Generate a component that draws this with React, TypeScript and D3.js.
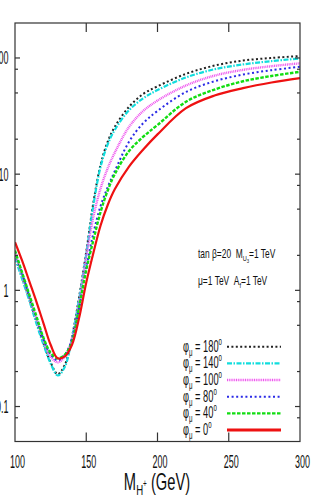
import React from 'react'
import * as d3 from 'd3'

// charged Higgs mass grid (GeV)
const masses = [100, 105, 110, 115, 120, 125, 130, 135, 140, 145, 150, 155, 160, 165, 170, 180, 190, 200, 220, 240, 260, 280, 300]

const phi180 = [2.0, 1.3, 0.85, 0.54, 0.35, 0.24, 0.19, 0.23, 0.4, 0.88, 2.15, 5.7, 12.0, 19.0, 25.5, 38, 49, 57, 73, 86, 95, 100, 104]
const phi140 = [1.9, 1.25, 0.82, 0.52, 0.34, 0.235, 0.185, 0.22, 0.39, 0.84, 2.05, 5.4, 11.5, 18.0, 24, 35.5, 45, 53, 68, 80, 88, 94, 99]
const phi100 = [2.1, 1.35, 0.88, 0.57, 0.37, 0.27, 0.24, 0.27, 0.38, 0.78, 1.95, 4.3, 7.5, 11.2, 15.3, 25.5, 35, 43, 58, 70.5, 79, 85, 90]
const phi80 = [2.15, 1.4, 0.9, 0.58, 0.38, 0.28, 0.25, 0.28, 0.38, 0.7, 1.55, 3.1, 5.3, 7.7, 10.6, 19, 27.5, 35, 51, 63, 72, 78.5, 84]
const phi40 = [2.2, 1.42, 0.92, 0.6, 0.39, 0.29, 0.26, 0.28, 0.36, 0.72, 1.5, 2.7, 4.7, 7.2, 10, 15.8, 21, 26.5, 42, 53.5, 63, 70, 76]
const phi0 = [2.6, 1.8, 1.2, 0.8, 0.52, 0.34, 0.26, 0.27, 0.34, 0.58, 1.17, 2.1, 3.6, 5.4, 7.4, 11.6, 16.3, 22, 37, 47.5, 55, 61.5, 67]

const phiLabels = ['180', '140', '100', '80', '40', '0']
const xTicks = [100, 150, 200, 250, 300]
const yMajor = [0.1, 1, 10, 100]
const yMinor = [0.08, 0.2, 0.5, 0.8, 2, 5, 8, 20, 50, 80]

const styles = [
  { color: '#222222', dash: '2,2.4', width: 2 },
  { color: '#11dddd', dash: '5,1.5,1.5,1.5', width: 2.2 },
  { color: '#ee55ee', dash: '1,0.8', width: 2.4 },
  { color: '#2a2ae6', dash: '2,2.6', width: 2 },
  { color: '#11dd11', dash: '3.5,1.5', width: 2.4 },
  { color: '#ee1111', dash: 'none', width: 2.2 }
]

const series = [phi180, phi140, phi100, phi80, phi40, phi0]

const W = 316
const H = 500
const margin = { left: 15, right: 16, top: 23, bottom: 58.5 }
const FONT = '"Liberation Sans", Arial, sans-serif'
const SP = '\u00a0'

const Narrow: React.FC<{ x: number; y: number; sx: number; anchor?: string; size: number; children: React.ReactNode }> = ({ x, y, sx, anchor = 'start', size, children }) => (
  <g transform={`translate(${x},${y}) scale(${sx},1)`}>
    <text textAnchor={anchor} fontSize={size} fontFamily={FONT} fill="#111">{children}</text>
  </g>
)

export default function App() {
  const x = d3.scaleLinear().domain([100, 300]).range([margin.left, W - margin.right])
  const y = d3.scaleLog().domain([0.05, 200]).range([H - margin.bottom, margin.top])
  const x0 = x.range()[0], x1 = x.range()[1]
  const y0 = y.range()[0], y1 = y.range()[1]

  const line = d3.line<number>()
    .x((_, i) => x(masses[i]))
    .y(d => y(d))
    .curve(d3.curveCatmullRom.alpha(0.5))

  const legendY = d3.scaleLinear().domain([0, 5]).range([346.7, 430])

  return (
    <svg width={W} height={H} style={{ position: 'absolute', left: 0, top: 0, background: '#fff' }}>
      <defs>
        <clipPath id="plot">
          <rect x={x0} y={y1} width={x1 - x0} height={y0 - y1} />
        </clipPath>
      </defs>

      {/* curves */}
      <g clipPath="url(#plot)">
        {series.map((s, i) => (
          <path key={i} d={line(s) || ''} fill="none" stroke={styles[i].color}
            strokeWidth={styles[i].width} strokeDasharray={styles[i].dash} />
        ))}
      </g>

      {/* frame and ticks */}
      <g stroke="#333" strokeWidth={1.2}>
        <rect x={x0} y={y1} width={x1 - x0} height={y0 - y1} fill="none" />
        {xTicks.slice(1, -1).map(t => (
          <g key={t}>
            <line x1={x(t)} x2={x(t)} y1={y0} y2={y0 - 9} />
            <line x1={x(t)} x2={x(t)} y1={y1} y2={y1 + 9} />
          </g>
        ))}
        {yMajor.map(t => (
          <g key={t}>
            <line x1={x0} x2={x0 + 5} y1={y(t)} y2={y(t)} />
            <line x1={x1} x2={x1 - 5} y1={y(t)} y2={y(t)} />
          </g>
        ))}
        {yMinor.map(t => (
          <g key={t}>
            <line x1={x0} x2={x0 + 3} y1={y(t)} y2={y(t)} />
            <line x1={x1} x2={x1 - 3} y1={y(t)} y2={y(t)} />
          </g>
        ))}
      </g>

      {/* tick labels */}
      {xTicks.map(t => (
        <Narrow key={t} x={x(t) + 2.5} y={468} sx={0.5} anchor="middle" size={18}>{t}</Narrow>
      ))}
      {yMajor.map(t => (
        <Narrow key={t} x={8.5} y={y(t) + 6.5} sx={0.5} anchor="end" size={18}>{t}</Narrow>
      ))}

      {/* axis title */}
      <Narrow x={157} y={490} sx={0.64} anchor="middle" size={23}>
        M<tspan fontSize={15} dy={5}>H</tspan><tspan fontSize={10} dy={-8}>+</tspan><tspan dy={3}>{SP}(GeV)</tspan>
      </Narrow>

      {/* annotation */}
      <Narrow x={198} y={258} sx={0.7} size={12}>
        tan β=20{SP}{SP}M<tspan fontSize={8} dy={3}>U</tspan><tspan fontSize={6} dy={2}>3</tspan><tspan dy={-5}>=1 TeV</tspan>
      </Narrow>
      <Narrow x={198} y={285} sx={0.7} size={12}>
        μ=1 TeV{SP}{SP}A<tspan fontSize={8} dy={3}>f</tspan><tspan dy={-3}>=1 TeV</tspan>
      </Narrow>

      {/* legend */}
      {phiLabels.map((p, i) => (
        <g key={p}>
          <Narrow x={183} y={legendY(i) + 5} sx={0.58} size={16}>
            φ<tspan fontSize={10.5} dy={4}>μ</tspan><tspan dy={-4}>{SP}={SP}{p}</tspan><tspan fontSize={10.5} dy={-7}>o</tspan>
          </Narrow>
          <line x1={227} x2={281} y1={legendY(i)} y2={legendY(i)} stroke={styles[i].color}
            strokeWidth={i === 5 ? 2.8 : styles[i].width} strokeDasharray={styles[i].dash} />
        </g>
      ))}
    </svg>
  )
}
